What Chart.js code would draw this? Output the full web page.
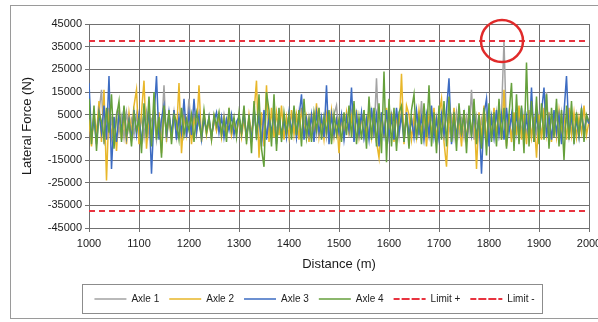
<!DOCTYPE html>
<html>
<head>
<meta charset="utf-8">
<script src="https://cdn.jsdelivr.net/npm/chart.js@4.4.0/dist/chart.umd.min.js"></script>
<style>
  body { margin: 0; background: #fff; }
  #wrap { width: 598px; height: 322px; }
</style>
</head>
<body>
<div id="wrap"><canvas id="forceChart"></canvas></div>
<script>
// Distance samples every 5 m from 1000 to 2000
const startDistance = 1000;
const stepDistance = 5;

// Lateral force per axle (N)
const axle1 = [
  2000, -5000, 4000, -3000, 6000, 16000, -8000, 5000, -4000, 3000, -6000, 5000, -3000, 4000, -5000, 6000, -2000, 3000, -4000, 5000,
  -3000, 4000, -5000, 6000, -4000, 3000, 5000, -6000, 4000, -3000, 18000, -7000, 5000, -4000, 6000, -5000, 3000, -4000, 5000, -2000,
  12000, -3000, 4000, -2000, 3000, -4000, 5000, -3000, 2000, -4000, 3000, -2000, 4000, -3000, 5000, -2000, 3000, -4000, 2000, -3000,
  4000, -3000, 5000, -4000, 3000, -5000, 6000, -3000, 4000, -6000, 5000, -4000, 3000, -5000, 6000, -3000, 4000, -5000, 3000, -4000,
  5000, -3000, 4000, -5000, 6000, -4000, 3000, -5000, 4000, -3000, 5000, -4000, 6000, -3000, 4000, -5000, 3000, -4000, 5000, 9000,
  -4000, 3000, -5000, 4000, -3000, 6000, -4000, 5000, -3000, 4000, -5000, 3000, -4000, 6000, -5000, 21000, -6000, 4000, -3000, 5000,
  -4000, 5000, -3000, 4000, -5000, 6000, -4000, 3000, -5000, 4000, -3000, 5000, -4000, 11000, -5000, 3000, -4000, 5000, -3000, 4000,
  -5000, 3000, -4000, 5000, -3000, 4000, -5000, 6000, -4000, 3000, -5000, 4000, -3000, 16000, -6000, 4000, -5000, 3000, -4000, 5000,
  -3000, 4000, -5000, 6000, -4000, 5000, 37500, -3000, 4000, -5000, 3000, -4000, 6000, -3000, 5000, -4000, 3000, -5000, 4000, -3000,
  5000, -4000, 3000, 15000, -5000, 4000, -3000, 5000, -4000, 6000, -3000, 4000, -5000, 3000, -4000, 5000, -3000, 4000, -2000, 3000, 1000
];
const axle2 = [
  3000, -9000, 6000, -4000, 11000, -7000, 16000, -24000, 8000, -5000, 4000, -11000, 7000, -6000, 5000, -8000, 6000, -3000, 9000, 16000,
  -8000, 6000, 20000, -10000, 5000, -7000, 9000, -4000, 6000, -12000, 8000, -5000, 4000, -6000, 7000, -3000, 19000, -12000, 5000, -4000,
  6000, -8000, 4000, -3000, 18000, -7000, 5000, -4000, 3000, -6000, 4000, -2000, 5000, -5000, 3000, -3000, 6000, -4000, 2000, -3000,
  4000, -5000, 3000, -6000, 5000, -4000, 6000, 20000, -14000, 6000, -9000, 18000, -7000, 8000, -5000, 6000, -4000, 9000, -6000, 4000,
  -5000, 7000, -4000, 5000, -6000, 8000, -3000, 4000, -7000, 6000, -4000, 10000, -5000, 3000, -6000, 5000, -3000, 7000, -5000, 4000,
  -12000, 5000, -4000, 6000, -3000, 4000, -6000, 7000, -5000, 3000, 6000, -4000, 8000, -5000, 4000, -7000, -14000, 6000, -5000, 8000,
  -4000, 6000, -7000, 5000, -3000, 23000, -8000, 9000, 5000, -6000, 4000, -5000, 7000, -3000, 6000, -9000, 5000, -4000, 8000, -6000,
  5000, 12000, -7000, -18000, 6000, -4000, 8000, -5000, 4000, -9000, 7000, -6000, 5000, -4000, 8000, -19000, 6000, -5000, 9000, -7000,
  6000, -5000, 8000, -4000, 7000, -6000, 16000, -9000, 5000, -7000, 6000, -4000, 9000, -6000, 5000, -8000, 7000, -5000, 4000, -14000,
  5000, -6000, 8000, -4000, 6000, -7000, 4000, -5000, 7000, -3000, 5000, -6000, 8000, -4000, 6000, -5000, 4000, -3000, 9000, -4000, 2000
];
const axle3 = [
  19000, -5000, 3000, -8000, 6000, -3000, 9000, -6000, 22000, -19000, 4000, -7000, 5000, -2000, 8000, -5000, 3000, -6000, 7000, -4000,
  5000, -8000, 6000, -3000, 8000, -21000, 4000, 22000, -6000, 3000, 9000, -5000, 6000, -4000, 7000, -6000, 4000, -3000, 12000, -5000,
  6000, -4000, 12000, -3000, 5000, -6000, 3000, -2000, 4000, -5000, 2000, 6000, -3000, 4000, -5000, 3000, -2000, 5000, -4000, 2000,
  4000, -3000, 6000, -5000, 3000, -7000, 8000, -4000, 5000, -9000, 7000, -6000, 4000, -3000, 6000, -8000, 5000, -4000, 3000, -5000,
  6000, -3000, 8000, -5000, 4000, 14000, -6000, 3000, -4000, 5000, -7000, 6000, -3000, 4000, -5000, 18000, -8000, 5000, -4000, 3000,
  -3000, 5000, -6000, 4000, -2000, 17000, -7000, 5000, -4000, 6000, -5000, 3000, -6000, 8000, -3000, 5000, -9000, 6000, -4000, 7000,
  -5000, 4000, -6000, 8000, -3000, 5000, -7000, 6000, -4000, 3000, -5000, 7000, -3000, 4000, -6000, 5000, -4000, 9000, -5000, 3000,
  -6000, 5000, -4000, 7000, 21000, -8000, 4000, -5000, 6000, -3000, 5000, -7000, 4000, -4000, 6000, -5000, 4000, -21000, 5000, 12000,
  -9000, 4000, -5000, 7000, -4000, 5000, -6000, 8000, -3000, 5000, -7000, 6000, -4000, 8000, -5000, 4000, -6000, 17000, -7000, 5000,
  -4000, 6000, 17000, -5000, 4000, -6000, 7000, -3000, 5000, -8000, 6000, 22000, -4000, 5000, -6000, 3000, -5000, 7000, -3000, 4000, 1000
];
const axle4 = [
  12000, -8000, 9000, -11000, 6000, 2000, -6000, 8000, -3000, 14000, -10000, 4000, 11000, -7000, 9000, -4000, 2000, -9000, 6000, -2000,
  3000, -12000, 10000, -5000, 13000, -9000, 15000, -6000, 4000, -14000, 9000, -3000, 7000, -8000, 5000, 2000, -6000, 8000, -4000, 3000,
  -2000, 5000, -7000, 6000, 1000, -5000, 7000, -3000, 4000, -6000, 5000, 0, 6000, -4000, 3000, -7000, 8000, -2000, 4000, -5000,
  6000, -3000, 9000, -8000, 5000, -12000, 11000, -6000, 14000, -10000, -18000, 15000, 7000, -9000, 14000, -11000, 8000, -7000, 6000, -3000,
  5000, -6000, 9000, -4000, 7000, -9000, 12000, -5000, 3000, -7000, 6000, -2000, 8000, -6000, 4000, -3000, 7000, -8000, 5000, -4000,
  3000, -7000, 6000, -4000, 9000, -5000, 11000, -8000, 4000, -6000, 7000, -10000, 13000, -6000, 8000, -9000, 10000, -12000, 24000, -16000,
  12000, -9000, 8000, -11000, 6000, 9000, -7000, 5000, -10000, 7000, 14000, -6000, 4000, -8000, 10000, -5000, 18000, -9000, 6000, -12000,
  9000, -6000, 11000, -9000, 13000, -7000, 6000, -11000, 10000, -4000, 7000, -12000, 9000, -5000, 12000, -8000, 5000, -10000, 8000, -13000,
  10000, -7000, 6000, -9000, 12000, -6000, 8000, -10000, 5000, 19000, -11000, 14000, -8000, 9000, -12000, 28000, -9000, 11000, -7000, 13000,
  -8000, 10000, -6000, 14000, -10000, 8000, -5000, 12000, -9000, 7000, -15000, 9000, -6000, 11000, -8000, 6000, -4000, 8000, -7000, 5000, 2000
];

// Limits (N)
const limitPlus = 37500;
const limitMinus = -37500;

// Axis ticks
const xTicks = { min: 1000, max: 2000, step: 100 };
const yTicks = { min: -45000, max: 45000, step: 10000 };

// Annotation circle around the exceedance
const circleAt = { x: 1826, y: 37500 };

const distance = [];
for (let i = 0; i < axle1.length; i++) {
    distance.push(startDistance + i * stepDistance);
}

function toPoints(values) {
    return values.map((v, i) => ({ x: distance[i], y: v }));
}

const FONT = "'Liberation Sans', Arial, sans-serif";

// White background and the outer frame of the figure
const framePlugin = {
    id: 'frame',
    beforeDraw(chart) {
        const ctx = chart.ctx;
        ctx.save();
        ctx.fillStyle = '#fff';
        ctx.fillRect(0, 0, chart.width, chart.height);
        ctx.strokeStyle = '#9a9a9a';
        ctx.lineWidth = 1;
        ctx.strokeRect(10.5, 5.5, chart.width + 20, chart.height - 9);
        ctx.restore();
    }
};

// Move legend right a bit (it sits left of centre in the original) and box it
const legendBoxPlugin = {
    id: 'legendBox',
    afterLayout(chart) {
        const lg = chart.legend;
        lg.left += 20;
        lg.right += 20;
    },
    afterDraw(chart) {
        const lg = chart.legend;
        const boxes = lg.legendHitBoxes;
        if (!boxes || !boxes.length) return;
        const left = Math.min(...boxes.map(b => b.left)) - 12;
        const right = Math.max(...boxes.map(b => b.left + b.width)) + 8;
        const ctx = chart.ctx;
        ctx.save();
        ctx.strokeStyle = '#8c8c8c';
        ctx.lineWidth = 1;
        ctx.strokeRect(Math.round(left) + 0.5, Math.round(lg.top) + 0.5, Math.round(right - left), Math.round(lg.bottom - lg.top) - 1);
        ctx.restore();
    }
};

// Red circle marking where Axle 1 touches the limit
const circlePlugin = {
    id: 'circle',
    afterDraw(chart) {
        const x = chart.scales.x.getPixelForValue(circleAt.x);
        const y = chart.scales.y.getPixelForValue(circleAt.y);
        const ctx = chart.ctx;
        ctx.save();
        ctx.strokeStyle = '#e02a2a';
        ctx.lineWidth = 2.5;
        ctx.beginPath();
        ctx.arc(x, y, 21, 0, Math.PI * 2);
        ctx.stroke();
        ctx.restore();
    }
};

const ctx = document.getElementById('forceChart').getContext('2d');
const forceChart = new Chart(ctx, {
    type: 'line',
    data: {
        datasets: [
            { label: 'Axle 1', data: toPoints(axle1), borderColor: '#a3a3a3', backgroundColor: '#a3a3a3', borderWidth: 1.5, order: 4 },
            { label: 'Axle 2', data: toPoints(axle2), borderColor: '#e8b72a', backgroundColor: '#e8b72a', borderWidth: 1.5, order: 3 },
            { label: 'Axle 3', data: toPoints(axle3), borderColor: '#3d6cc2', backgroundColor: '#3d6cc2', borderWidth: 1.5, order: 2 },
            { label: 'Axle 4', data: toPoints(axle4), borderColor: '#65a03c', backgroundColor: '#65a03c', borderWidth: 1.5, order: 1 },
            {
                label: 'Limit +',
                data: [{ x: xTicks.min, y: limitPlus }, { x: xTicks.max, y: limitPlus }],
                borderColor: '#e8333f', backgroundColor: '#e8333f', borderWidth: 2, borderDash: [6, 4], order: 0
            },
            {
                label: 'Limit -',
                data: [{ x: xTicks.min, y: limitMinus }, { x: xTicks.max, y: limitMinus }],
                borderColor: '#e8333f', backgroundColor: '#e8333f', borderWidth: 2, borderDash: [6, 4], order: 0
            }
        ]
    },
    options: {
        responsive: true,
        maintainAspectRatio: false,
        animation: false,
        elements: {
            point: { radius: 0 },
            line: { tension: 0 }
        },
        layout: {
            padding: { top: 24, right: 9, bottom: 8, left: 0 }
        },
        scales: {
            x: {
                type: 'linear',
                min: xTicks.min,
                max: xTicks.max,
                grid: { color: '#707070', tickLength: 4 },
                border: { color: '#707070' },
                ticks: {
                    stepSize: xTicks.step,
                    padding: 5,
                    color: '#1a1a1a',
                    font: { family: FONT, size: 11 },
                    maxRotation: 0,
                    callback: v => String(v)
                },
                title: {
                    display: true,
                    text: 'Distance (m)',
                    color: '#1a1a1a',
                    font: { family: FONT, size: 13 },
                    padding: { top: 0, bottom: 12 }
                },
                afterFit(scale) {
                    scale.height = 56;
                    scale.paddingRight = 0;
                }
            },
            y: {
                min: yTicks.min,
                max: yTicks.max,
                grid: { color: '#707070', tickLength: 4 },
                border: { color: '#707070' },
                ticks: {
                    stepSize: yTicks.step,
                    padding: 3,
                    color: '#1a1a1a',
                    font: { family: FONT, size: 11 },
                    callback: v => String(v)
                },
                title: {
                    display: true,
                    text: 'Lateral Force (N)',
                    color: '#1a1a1a',
                    font: { family: FONT, size: 13 },
                    padding: { top: 20, bottom: 0 }
                },
                afterFit(scale) {
                    scale.width = 89;
                }
            }
        },
        plugins: {
            legend: {
                position: 'bottom',
                labels: {
                    boxWidth: 32,
                    boxHeight: 0,
                    padding: 10,
                    color: '#222',
                    font: { family: FONT, size: 10 },
                    sort: (a, b) => a.datasetIndex - b.datasetIndex
                }
            },
            tooltip: { enabled: false }
        }
    },
    plugins: [framePlugin, legendBoxPlugin, circlePlugin]
});
</script>
</body>
</html>
